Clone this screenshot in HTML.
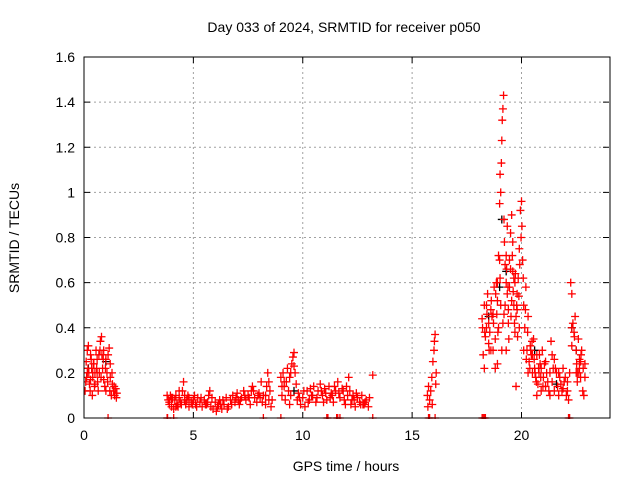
<!DOCTYPE html>
<html><head><meta charset="utf-8"><style>
body{margin:0;background:#fff}
svg{display:block;font-family:"Liberation Sans",sans-serif}
</style></head><body>
<svg id="chart" width="640" height="480" viewBox="0 0 640 480" xmlns="http://www.w3.org/2000/svg">
<rect width="640" height="480" fill="#fff"/>
<text x="344" y="32" font-size="14" text-anchor="middle">Day 033 of 2024, SRMTID for receiver p050</text>
<text x="19" y="238" font-size="14" text-anchor="middle" transform="rotate(-90 19 238)">SRMTID / TECUs</text>
<text x="346" y="471" font-size="14" text-anchor="middle">GPS time / hours</text>
<g id="grid"></g><g id="ticks"></g>
<defs><clipPath id="pc"><rect x="84" y="57" width="526" height="362"/></clipPath></defs>
<g id="marks" clip-path="url(#pc)"></g>
<rect x="84" y="57" width="526" height="361" fill="none" stroke="#000" stroke-width="1"/>
</svg>
<script>
const xTicks=[0,5,10,15,20];
const yTicks=[0,0.2,0.4,0.6,0.8,1,1.2,1.4,1.6];
const yTickLabels=["0","0.2","0.4","0.6","0.8","1","1.2","1.4","1.6"];
const redTimes=[
0.05,0.1,0.12,0.15,0.2,0.22,0.25,0.3,0.35,0.38,0.4,0.45,0.5,0.55,0.6,0.62,0.65,0.7,0.75,0.8,0.82,0.85,0.9,0.95,1.0,1.05,1.1,1.15,1.2,1.25,1.3,1.35,1.4,1.45,1.5,0.3,0.5,0.9,1.2,1.1,0.4,
3.8,3.85,3.9,3.95,4.0,4.05,4.1,4.15,4.2,4.25,4.3,4.35,4.4,4.5,4.55,4.6,4.65,4.7,4.75,4.8,4.9,5.0,5.1,5.2,5.3,5.4,5.5,5.6,5.7,5.75,5.8,5.9,6.0,6.05,6.1,6.2,6.3,6.4,6.5,6.6,6.7,6.8,6.9,7.0,7.1,7.2,7.3,7.4,7.5,7.6,7.7,7.8,7.9,8.0,8.1,8.2,8.3,8.35,8.4,8.45,8.5,8.55,4.1,8.2,
9.0,9.05,9.1,9.15,9.2,9.3,9.35,9.4,9.45,9.5,9.55,9.6,9.65,9.7,9.75,9.8,9.9,10.0,10.1,10.2,10.3,10.4,10.5,10.6,10.7,10.8,10.9,11.0,11.1,11.2,11.3,11.4,11.5,11.6,11.7,11.8,11.9,12.0,12.1,12.15,12.2,12.3,12.4,12.5,12.6,12.7,12.8,12.9,13.0,13.2,9.0,11.1,11.15,11.55,11.6,11.7,13.2,3.8,3.82,
15.7,15.72,15.75,15.8,15.85,15.9,15.92,15.95,16.0,16.02,16.05,16.08,16.1,15.75,15.8,16.05,
18.2,18.25,18.3,18.35,18.4,18.45,18.5,18.55,18.6,18.65,18.7,18.75,18.8,18.85,18.9,18.95,19.0,19.02,19.05,19.08,19.1,19.12,19.15,19.18,19.2,19.22,19.25,19.3,19.35,19.4,19.45,19.5,19.55,19.6,19.65,19.7,19.75,19.8,19.85,19.9,19.95,20.0,20.02,20.05,20.1,20.15,20.2,20.25,20.3,20.35,20.4,20.45,20.5,20.55,20.6,20.65,20.7,20.75,20.8,20.85,20.9,20.95,21.0,21.1,21.2,21.3,21.35,21.4,21.45,21.5,21.6,21.7,21.8,21.9,22.0,22.1,22.15,22.2,22.25,22.3,22.35,22.4,22.45,22.5,22.55,22.6,22.65,22.7,22.75,22.8,22.85,22.9,
19.3,19.4,19.5,19.6,19.7,19.8,19.9,19.3,19.35,19.45,19.55,19.65,19.75,18.9,19.0,18.95,19.05,18.3,18.4,18.5,18.6,18.7,18.8,18.9,19.1,19.15,19.2,20.1,20.3,20.5,20.7,20.9,21.1,21.3,21.5,21.7,21.9,22.1,22.3,22.5,22.7,22.9,18.2,18.25,18.3,18.35,22.15,22.2
];
const redValues=[
0.12,0.25,0.18,0.3,0.32,0.2,0.15,0.28,0.22,0.1,0.18,0.24,0.2,0.3,0.26,0.16,0.12,0.2,0.34,0.36,0.28,0.22,0.3,0.14,0.12,0.2,0.28,0.31,0.18,0.1,0.15,0.12,0.1,0.13,0.11,0.17,0.15,0.17,0.24,0,0.2,
0.1,0.08,0.06,0.1,0.05,0.09,0.04,0.08,0.1,0.06,0.05,0.09,0.07,0.12,0.16,0.1,0.06,0.08,0.1,0.05,0.07,0.08,0.06,0.09,0.07,0.05,0.08,0.06,0.1,0.12,0.05,0.04,0.07,0.03,0.05,0.08,0.04,0.06,0.09,0.05,0.08,0.1,0.07,0.11,0.06,0.09,0.12,0.08,0.1,0.06,0.14,0.09,0.07,0.11,0.16,0.1,0.06,0.14,0.2,0.08,0.12,0.05,0,0,
0.18,0.1,0.2,0.14,0.08,0.22,0.12,0.18,0.1,0.24,0.27,0.29,0.2,0.15,0.08,0.11,0.06,0.09,0.05,0.12,0.08,0.1,0.14,0.07,0.12,0.15,0.1,0.13,0.08,0.14,0.11,0.07,0.12,0.16,0.09,0.13,0.08,0.14,0.18,0.12,0.06,0.1,0.05,0.09,0.07,0.1,0.06,0.08,0.05,0.19,0,0,0,0,0,0,0,0,0,
0.1,0.05,0.14,0.08,0.12,0.18,0.06,0.25,0.3,0.34,0.37,0.15,0.2,0,0,0,
0.44,0.28,0.22,0.36,0.5,0.55,0.42,0.38,0.48,0.45,0.3,0.58,0.35,0.6,0.52,0.72,0.95,1.08,1.0,1.13,1.23,1.32,1.37,1.43,0.88,0.78,0.68,0.6,0.55,0.48,0.7,0.82,0.9,0.65,0.5,0.38,0.14,0.55,0.62,0.75,0.92,0.96,0.85,0.7,0.5,0.4,0.58,0.3,0.45,0.25,0.32,0.28,0.2,0.35,0.22,0.18,0.28,0.15,0.2,0.24,0.12,0.3,0.18,0.25,0.16,0.2,0.34,0.28,0.22,0.12,0.2,0.1,0.15,0.22,0.18,0.12,0.08,0.2,0.6,0.55,0.42,0.38,0.45,0.3,0.2,0.35,0.26,0.18,0.3,0.12,0.1,0.24,
0.72,0.42,0.66,0.78,0.6,0.48,0.4,0.3,0.85,0.58,0.52,0.62,0.45,0.6,0.7,0.4,0.5,0.5,0.4,0.33,0.3,0.46,0.22,0.24,0.3,0.42,0.46,0.3,0.2,0.28,0.1,0.22,0.14,0.1,0.26,0.2,0.13,0.16,0.4,0.2,0.25,0.18,0,0,0,0,0,0
];
const extraTimes=[
0.08,0.18,0.28,0.33,0.43,0.48,0.58,0.68,0.73,0.78,0.88,0.98,1.08,1.18,1.28,1.38,1.48,0.15,0.6,1.0,
3.9,4.0,4.2,4.35,4.45,4.6,4.8,4.95,5.15,5.35,5.55,5.65,5.85,6.15,6.35,6.55,6.75,6.95,7.15,7.35,7.55,7.75,7.95,8.15,8.3,8.45,8.6,5.05,6.25,7.05,7.65,8.05,
9.05,9.25,9.45,9.6,9.85,10.05,10.25,10.45,10.65,10.85,11.05,11.25,11.45,11.65,11.85,12.05,12.25,12.45,12.65,12.85,13.05,9.15,9.4,10.35,10.95,11.35,11.95,12.35,12.75,
18.22,18.32,18.42,18.52,18.62,18.72,18.82,18.87,18.92,19.02,19.25,19.32,19.38,19.42,19.52,19.58,19.62,19.68,19.72,19.78,19.82,19.88,19.92,19.98,20.08,20.18,20.22,20.28,20.38,20.42,20.48,20.58,20.62,20.68,20.78,20.82,20.88,20.98,21.05,21.15,21.25,21.4,21.55,21.65,21.75,21.85,21.95,22.05,22.3,22.42,22.52,22.62,22.72,22.82,22.55,22.65
];
const extraValues=[
0.16,0.22,0.12,0.26,0.24,0.14,0.22,0.28,0.3,0.18,0.26,0.22,0.16,0.12,0.2,0.14,0.09,0.2,0.2,0.26,
0.07,0.09,0.05,0.12,0.06,0.08,0.09,0.06,0.05,0.09,0.06,0.07,0.09,0.06,0.08,0.04,0.06,0.09,0.08,0.1,0.09,0.12,0.1,0.07,0.1,0.16,0.08,0.1,0.06,0.08,0.12,0.09,
0.14,0.16,0.2,0.23,0.09,0.12,0.07,0.1,0.09,0.12,0.11,0.09,0.14,0.11,0.12,0.1,0.08,0.11,0.06,0.07,0.09,0.16,0.06,0.13,0.07,0.1,0.06,0.08,0.06,
0.4,0.38,0.46,0.3,0.52,0.42,0.55,0.46,0.38,0.62,0.5,0.66,0.58,0.35,0.45,0.72,0.56,0.42,0.64,0.5,0.36,0.54,0.68,0.8,0.62,0.48,0.26,0.38,0.22,0.3,0.34,0.26,0.2,0.16,0.22,0.28,0.18,0.14,0.24,0.2,0.12,0.16,0.22,0.14,0.18,0.12,0.16,0.1,0.32,0.36,0.24,0.2,0.28,0.22,0.16,0.22
];
const blackTimes=[0.2,1.0,19.1,19.3,20.6,21.6,22.3,22.5,19.0,18.5,9.6];
const blackValues=[0.22,0.25,0.88,0.65,0.3,0.15,0.4,0.3,0.58,0.45,0.12];

const X0=84,X1=609,Y0=418,Y1=57,XMAX=24,YMAX=1.6;
function xs(t){return X0+(X1-X0)*t/XMAX;}
function ys(v){return Y0-(Y0-Y1)*v/YMAX;}
const NS="http://www.w3.org/2000/svg";
function mk(tag,attrs,parent){const e=document.createElementNS(NS,tag);for(const k in attrs)e.setAttribute(k,attrs[k]);parent.appendChild(e);return e;}
const grid=document.getElementById('grid'),ticks=document.getElementById('ticks'),marks=document.getElementById('marks');
xTicks.forEach(t=>{
  const x=xs(t);
  if(t>0){const g=mk('line',{x1:x,x2:x,y1:Y1,y2:Y0,stroke:'#a0a0a0','stroke-dasharray':'2,3'},grid);
  
  }
  mk('line',{x1:x,x2:x,y1:Y0,y2:Y0-6,stroke:'#000'},ticks);
  mk('line',{x1:x,x2:x,y1:Y1,y2:Y1+6,stroke:'#000'},ticks);
  const l=mk('text',{x:x,y:Y0+22,'font-size':14,'text-anchor':'middle'},ticks);
  l.textContent=t;
  
  
});
yTicks.forEach((v,i)=>{
  const y=ys(v);
  if(v>0&&v<YMAX){const g=mk('line',{x1:X0,x2:X1,y1:y,y2:y,stroke:'#a0a0a0','stroke-dasharray':'2,3'},grid);
  
  }
  mk('line',{x1:X0,x2:X0+6,y1:y,y2:y,stroke:'#000'},ticks);
  mk('line',{x1:X1,x2:X1-6,y1:y,y2:y,stroke:'#000'},ticks);
  const l=mk('text',{x:X0-9,y:y+5,'font-size':14,'text-anchor':'end'},ticks);
  l.textContent=yTickLabels[i];
  
  
});
function plus(t,v,color,name){
  const x=xs(t),y=ys(v);
  const p=mk('path',{d:`M${x-4},${y}H${x+4}M${x},${y-4}V${y+4}`,stroke:color,'stroke-width':1.3,fill:'none'},marks);
  
  
}
blackTimes.forEach((t,i)=>plus(t,blackValues[i],'#000','black-point'));
redTimes.forEach((t,i)=>plus(t,redValues[i],'#f00','red-point'));
extraTimes.forEach((t,i)=>plus(t,extraValues[i],'#f00','red-point'));
</script>
</body></html>
